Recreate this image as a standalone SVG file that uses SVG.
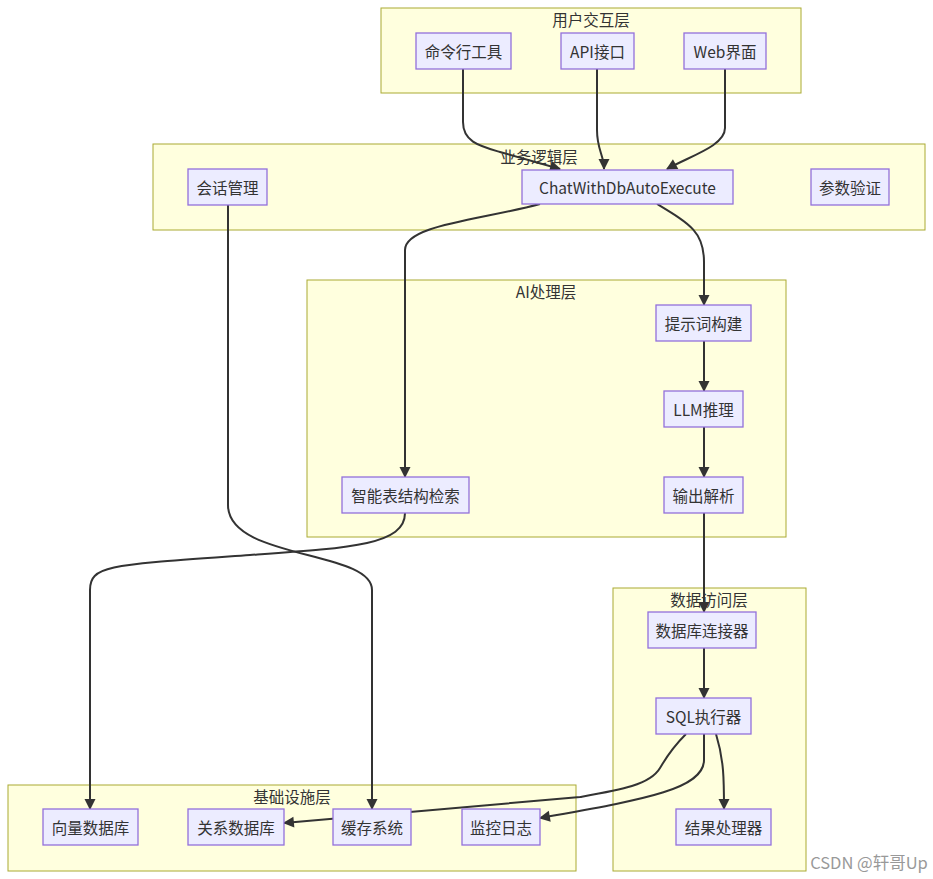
<svg xmlns="http://www.w3.org/2000/svg" width="933" height="879" viewBox="0 0 933 879">
<defs>
<marker id="arr" viewBox="0 0 10 10" refX="9" refY="5" markerWidth="11" markerHeight="11" markerUnits="userSpaceOnUse" orient="auto" overflow="visible">
<path d="M0,0 L10,5 L0,10 z" fill="#333333"/>
</marker>
<style>
.cl{fill:#ffffde;stroke:#aaaa33;stroke-width:1}
.nd{fill:#ececff;stroke:#9370db;stroke-width:1.3}
.t{font-family:"Noto Sans CJK SC","Liberation Sans",sans-serif;font-size:15.5px;fill:#333;text-anchor:middle;dominant-baseline:central}
.e{fill:none;stroke:#333333;stroke-width:2;marker-end:url(#arr)}
</style>
</defs>
<rect width="933" height="879" fill="#ffffff"/>
<g id="clusters">
<g id="c-user"><rect class="cl" x="381" y="8" width="420" height="85"/><text class="t" x="591" y="19">用户交互层</text></g>
<g id="c-biz"><rect class="cl" x="153" y="144" width="772" height="86"/><text class="t" x="539" y="156">业务逻辑层</text></g>
<g id="c-ai"><rect class="cl" x="307" y="280" width="479" height="257"/><text class="t" x="546" y="291">AI处理层</text></g>
<g id="c-data"><rect class="cl" x="613" y="588" width="193" height="283"/><text class="t" x="709" y="599">数据访问层</text></g>
<g id="c-infra"><rect class="cl" x="8" y="785" width="568" height="86"/><text class="t" x="292" y="796">基础设施层</text></g>
</g>
<g id="edges">
<path class="e" d="M463,69 L463,122 C463,142 480,146 500,152 L560,169"/>
<path class="e" d="M597,69 L597,130 C597,150 604,155 604,169"/>
<path class="e" d="M725,69 L725,128 C725,146 690,156 667,169"/>
<path class="e" d="M540,204 C480,220 405,225 405,250 L405,477"/>
<path class="e" d="M657,204 C690,224 704,232 704,262 L704,305"/>
<path class="e" d="M704,341 L704,391"/>
<path class="e" d="M704,427 L704,477"/>
<path class="e" d="M704,513 L704,612"/>
<path class="e" d="M704,648 L704,698"/>
<path class="e" d="M228,205 L228,505 C228,560 372,550 372,590 L372,809"/>
<path class="e" d="M405,513 C405,545 350,548 250,555 C110,565 90,565 90,590 L90,809"/>
<path class="e" d="M686,734 C670,750 665,760 660,768 C650,785 620,790 580,797 L284,823"/>
<path class="e" d="M704,734 L704,760 C704,790 640,800 540,818"/>
<path class="e" d="M716,734 C724,760 724,780 724,809"/>
</g>
<g id="n-cli"><rect class="nd" x="416" y="33" width="95" height="36"/><text class="t" x="463.5" y="51">命令行工具</text></g>
<g id="n-api"><rect class="nd" x="561" y="33" width="73" height="36"/><text class="t" x="597.5" y="51">API接口</text></g>
<g id="n-web"><rect class="nd" x="684" y="33" width="82" height="36"/><text class="t" x="725" y="51">Web界面</text></g>
<g id="n-session"><rect class="nd" x="188" y="169" width="79" height="36"/><text class="t" x="227.5" y="187">会话管理</text></g>
<g id="n-chat"><rect class="nd" x="522" y="170" width="211" height="34"/><text class="t" x="627.5" y="187">ChatWithDbAutoExecute</text></g>
<g id="n-param"><rect class="nd" x="811" y="169" width="78" height="36"/><text class="t" x="850" y="187">参数验证</text></g>
<g id="n-prompt"><rect class="nd" x="656" y="305" width="95" height="36"/><text class="t" x="703.5" y="323">提示词构建</text></g>
<g id="n-llm"><rect class="nd" x="664" y="391" width="79" height="36"/><text class="t" x="703.5" y="409">LLM推理</text></g>
<g id="n-parse"><rect class="nd" x="664" y="477" width="79" height="36"/><text class="t" x="703.5" y="495">输出解析</text></g>
<g id="n-schema"><rect class="nd" x="342" y="477" width="127" height="36"/><text class="t" x="405.5" y="495">智能表结构检索</text></g>
<g id="n-conn"><rect class="nd" x="648" y="612" width="108" height="36"/><text class="t" x="702" y="630">数据库连接器</text></g>
<g id="n-sql"><rect class="nd" x="656" y="698" width="95" height="36"/><text class="t" x="703.5" y="716">SQL执行器</text></g>
<g id="n-result"><rect class="nd" x="676" y="809" width="95" height="36"/><text class="t" x="723.5" y="827">结果处理器</text></g>
<g id="n-vector"><rect class="nd" x="43" y="809" width="95" height="36"/><text class="t" x="90.5" y="827">向量数据库</text></g>
<g id="n-rdb"><rect class="nd" x="188" y="809" width="96" height="36"/><text class="t" x="236" y="827">关系数据库</text></g>
<g id="n-cache"><rect class="nd" x="333" y="809" width="78" height="36"/><text class="t" x="372" y="827">缓存系统</text></g>
<g id="n-log"><rect class="nd" x="462" y="809" width="78" height="36"/><text class="t" x="501" y="827">监控日志</text></g>
<text x="869" y="862" style="font-family:'Noto Sans CJK SC','Liberation Sans',sans-serif;font-size:16.5px;fill:#999999;text-anchor:middle;dominant-baseline:central">CSDN @轩哥Up</text>
</svg>
